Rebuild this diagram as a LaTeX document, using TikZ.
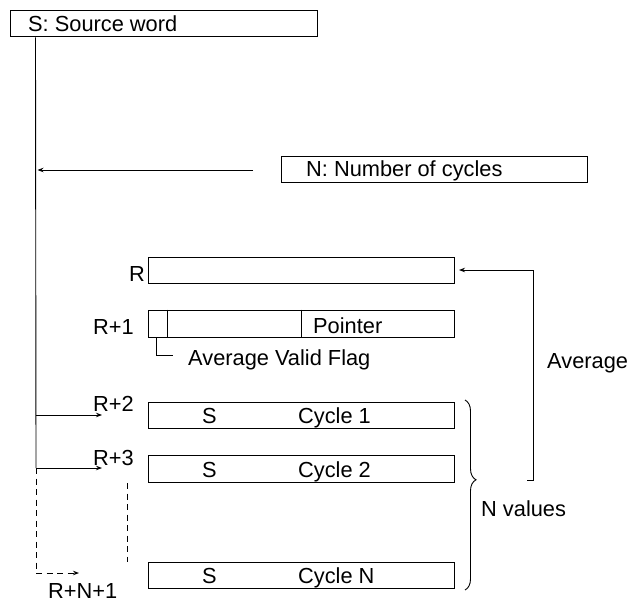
\documentclass[tikz,border=0pt]{standalone}
\usepackage{fontspec}
\setmainfont{Liberation Sans}
\usetikzlibrary{arrows.meta,positioning,decorations.pathreplacing}
\begin{document}
\begin{tikzpicture}[
        x=1pt, y=-1pt,
        every node/.style={font=\fontsize{21.8pt}{26pt}\selectfont, inner sep=0pt},
        word/.style={draw, line width=1pt, minimum width=306pt, minimum height=26pt},
        wire/.style={line width=0.9pt},
        feed/.style={wire, -{Stealth[length=6pt, width=4.5pt]}},
        gap/.style={wire, dash pattern=on 6pt off 4.5pt},
    ]
    \useasboundingbox (0,0) rectangle (629,602);
    % source and N
    \node[word, minimum width=307pt] (src) at (163.5,24) {};
    \node[anchor=base west] (srctxt) at (28,32) {S: Source word};
    \node[word] (ncyc) at (434,169) {};
    \node[anchor=base west] (ncyctxt) at (306,176) {N: Number of cycles};
    % result words
    \node[word] (r0) at (301,270) {};
    \node[word, minimum height=27pt] (r1) at (301,323.5) {};
    \node[word] (r2) at (301,415) {};
    \node[word, minimum height=27pt] (r3) at (301,468.5) {};
    \node[word] (rn) at (301,575) {};
    \node[anchor=base east] (lr0) at (145,281) {R};
    \node[anchor=base west] (lr1) at (93,334) {R+1};
    \node[anchor=base west] (lr2) at (93,411) {R+2};
    \node[anchor=base west] (lr3) at (93,465) {R+3};
    \node[anchor=base west] (lrn) at (48,598) {R+N+1};
    \draw[wire] ([xshift=20pt]r1.north west) -- ([xshift=20pt]r1.south west);
    \draw[wire] (r1.north) -- (r1.south);
    \node[anchor=base west] (ptr) at (313,333) {Pointer};
    \coordinate (flagend) at (173,355);
    \draw[wire] ([xshift=9pt]r1.south west) |- (flagend);
    \node[anchor=base west] (flag) at (188,365) {Average Valid Flag};
    \node[anchor=base west] (s2) at ([xshift=-99pt, yshift=-8pt]r2.center) {S};
    \node[anchor=base west] (c2) at ([xshift=-3pt, yshift=-8pt]r2.center) {Cycle 1};
    \node[anchor=base west] (s3) at ([xshift=-99pt, yshift=-8.5pt]r3.center) {S};
    \node[anchor=base west] (c3) at ([xshift=-3pt, yshift=-8.5pt]r3.center) {Cycle 2};
    \node[anchor=base west] (sn) at ([xshift=-99pt, yshift=-8pt]rn.center) {S};
    \node[anchor=base west] (cn) at ([xshift=-3pt, yshift=-8pt]rn.center) {Cycle N};
    % trunk and branches
    \coordinate (trunk) at ([xshift=26pt]src.south west);
    \coordinate (b2) at (36,415);
    \coordinate (b3) at (36,468);
    \coordinate (bn) at (36,573);
    \coordinate (t2) at (102,415);
    \coordinate (t3) at (102,468);
    \coordinate (tn) at (79,573);
    \draw[wire] (trunk) -- (b3);
    \draw[feed] (b2) -- (t2);
    \draw[feed] (b3) -- (t3);
    \draw[gap] (b3) -- (bn);
    \draw[gap, -{Stealth[length=6pt, width=4.5pt]}] (bn) -- (tn);
    \coordinate (nfrom) at (253,170);
    \coordinate (nto) at (37.5,170);
    \draw[feed] (nfrom) -- (nto);
    \coordinate (dtop) at (127,483);
    \coordinate (dbot) at (127,562);
    \draw[gap] (dtop) -- (dbot);
    % brace and average
    \coordinate (btop) at (465,400);
    \coordinate (bbot) at (465,590);
    \draw[wire, decorate, decoration={brace, amplitude=11pt, aspect=0.42}] (btop) -- (bbot);
    \node[anchor=base west] (nval) at (481,516) {N values};
    \coordinate (avgstub) at (527,480);
    \coordinate (avgtop) at (533,270);
    \draw[feed, shorten >=4.5pt] (avgstub) -| (avgtop) -- (r0.east);
    \node[anchor=base west] (avg) at (547,368) {Average};
\end{tikzpicture}
\end{document}
